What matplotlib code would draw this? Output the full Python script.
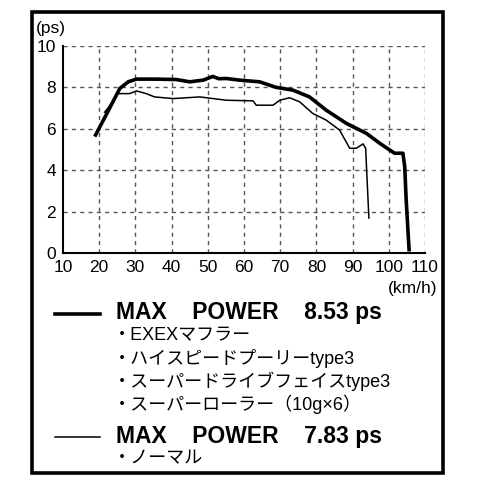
import matplotlib
matplotlib.use("Agg")
import matplotlib.pyplot as plt
from matplotlib.patches import Rectangle
from matplotlib.lines import Line2D

# tuned setup (thick line)
tuned_x = [19.0, 22.0, 25.7, 28.0, 30.3, 35.8, 41.3, 45.0, 48.7, 51.4, 53.0, 55.1, 58.8,
           64.3, 68.9, 73.5, 78.1, 82.7, 88.3, 93.8, 97.5, 100.2, 101.6, 103.9, 104.4,
           104.8, 105.6]
tuned_y = [5.7, 6.7, 7.95, 8.27, 8.4, 8.4, 8.38, 8.27, 8.35, 8.53, 8.42, 8.43, 8.35,
           8.27, 8.0, 7.87, 7.54, 6.9, 6.26, 5.78, 5.3, 4.98, 4.82, 4.82, 4.17,
           2.57, 0.16]

# stock (thin line)
stock_x = [21.5, 23.5, 25.2, 28.4, 30.3, 33.0, 35.3, 40.4, 47.8, 55.1, 62.5, 63.4,
           68.0, 69.9, 72.6, 75.4, 79.0, 82.7, 86.4, 89.2, 91.0, 92.9, 93.6, 94.5]
stock_y = [6.8, 7.25, 7.7, 7.7, 7.83, 7.7, 7.54, 7.46, 7.54, 7.38, 7.35, 7.14,
           7.14, 7.38, 7.5, 7.3, 6.74, 6.42, 5.94, 5.06, 5.06, 5.27, 5.06, 1.69]

x_ticks = [10, 20, 30, 40, 50, 60, 70, 80, 90, 100, 110]
y_ticks = [0, 2, 4, 6, 8, 10]

legend1_title = "MAX    POWER    8.53 ps"
legend1_items = ["・EXEXマフラー", "・ハイスピードプーリーtype3",
                 "・スーパードライブフェイスtype3", "・スーパーローラー（10g×6）"]
legend2_title = "MAX    POWER    7.83 ps"
legend2_items = ["・ノーマル"]

FAM = ["Liberation Sans", "Noto Sans CJK JP", "DejaVu Sans"]
plt.rcParams["font.family"] = FAM

W, H = 480, 480
fig = plt.figure(figsize=(4.8, 4.8), dpi=100)

def fx(px):
    return px / W

def fy(py):
    return 1 - py / H

ax = fig.add_axes([fx(63), fy(253), fx(425) - fx(63), fy(46) - fy(253)])
ax.set_xlim(10, 110)
ax.set_ylim(0, 10)
for v in x_ticks[1:]:
    ax.axvline(v, color="#555555", lw=1.0, ls=(0, (3, 3)), zorder=1)
for v in y_ticks[1:]:
    ax.axhline(v, color="#555555", lw=1.0, ls=(0, (3, 3)), zorder=1)
ax.plot(stock_x, stock_y, color="black", lw=1.1, zorder=3)
ax.plot(tuned_x, tuned_y, color="black", lw=2.6, zorder=4)
ax.spines["top"].set_visible(False)
ax.spines["right"].set_visible(False)
ax.spines["left"].set_linewidth(1.5)
ax.spines["bottom"].set_linewidth(1.5)
ax.set_xticks(x_ticks)
ax.set_yticks(y_ticks)
ax.tick_params(length=0, labelsize=12.5, pad=5)
ax.set_xticklabels([str(v) for v in x_ticks])
ax.set_yticklabels([str(v) for v in y_ticks])

fig.text(fx(36), fy(28), "(ps)", fontsize=12.5, ha="left", va="center")
fig.text(fx(437), fy(288), "(km/h)", fontsize=12.5, ha="right", va="center")

# outer frame
fig.add_artist(Rectangle((fx(32), fy(473)), fx(443) - fx(32), fy(12) - fy(473),
                         transform=fig.transFigure, fill=False, ec="black", lw=2.6))

# legend block
fig.add_artist(Line2D([fx(55), fx(100)], [fy(314), fy(314)], transform=fig.transFigure,
                      color="black", lw=2.6))
fig.text(fx(116), fy(312), legend1_title, fontsize=16.5, fontweight="bold",
         ha="left", va="center")
ys = [336, 358, 381, 404]
for t, yy in zip(legend1_items, ys):
    fig.text(fx(113), fy(yy), t, fontsize=13, ha="left", va="center")

fig.add_artist(Line2D([fx(55), fx(100)], [fy(437), fy(437)], transform=fig.transFigure,
                      color="black", lw=1.1))
fig.text(fx(116), fy(436), legend2_title, fontsize=16.5, fontweight="bold",
         ha="left", va="center")
fig.text(fx(113), fy(459), legend2_items[0], fontsize=13, ha="left", va="center")

fig.savefig("out.png", dpi=100)
